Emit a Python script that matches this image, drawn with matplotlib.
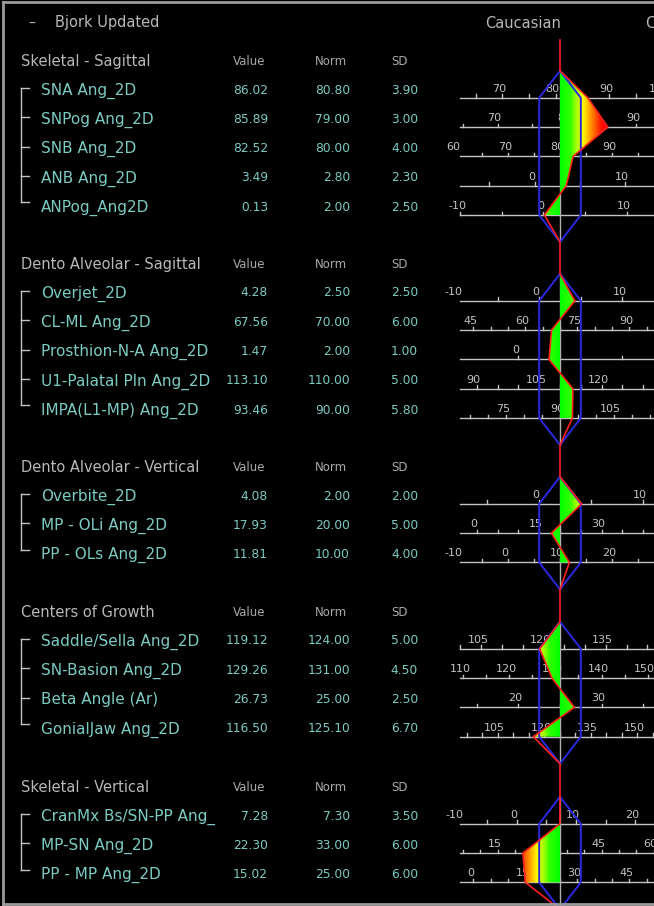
import numpy as np
import matplotlib
matplotlib.use("Agg")
import matplotlib.pyplot as plt
from matplotlib.colors import LinearSegmentedColormap
from matplotlib.patches import Polygon

# ---------------- data ----------------
TITLE = "Bjork Updated"
POPULATION = "Caucasian"
NEXT_POPULATION = "C"
COL_HEADERS = ["Value", "Norm", "SD"]

group_titles = ["Skeletal - Sagittal", "Dento Alveolar - Sagittal",
                "Dento Alveolar - Vertical", "Centers of Growth",
                "Skeletal - Vertical"]

skel_sag_names = ["SNA Ang_2D", "SNPog Ang_2D", "SNB Ang_2D", "ANB Ang_2D", "ANPog_Ang2D"]
skel_sag_values = [86.02, 85.89, 82.52, 3.49, 0.13]
skel_sag_norms = [80.80, 79.00, 80.00, 2.80, 2.00]
skel_sag_sds = [3.90, 3.00, 4.00, 2.30, 2.50]
skel_sag_steps = [10, 10, 10, 10, 10]

dento_sag_names = ["Overjet_2D", "CL-ML Ang_2D", "Prosthion-N-A Ang_2D",
                   "U1-Palatal Pln Ang_2D", "IMPA(L1-MP) Ang_2D"]
dento_sag_values = [4.28, 67.56, 1.47, 113.10, 93.46]
dento_sag_norms = [2.50, 70.00, 2.00, 110.00, 90.00]
dento_sag_sds = [2.50, 6.00, 1.00, 5.00, 5.80]
dento_sag_steps = [10, 15, 10, 15, 15]

dento_ver_names = ["Overbite_2D", "MP - OLi Ang_2D", "PP - OLs Ang_2D"]
dento_ver_values = [4.08, 17.93, 11.81]
dento_ver_norms = [2.00, 20.00, 10.00]
dento_ver_sds = [2.00, 5.00, 4.00]
dento_ver_steps = [10, 15, 10]

growth_names = ["Saddle/Sella Ang_2D", "SN-Basion Ang_2D", "Beta Angle (Ar)", "GonialJaw Ang_2D"]
growth_values = [119.12, 129.26, 26.73, 116.50]
growth_norms = [124.00, 131.00, 25.00, 125.10]
growth_sds = [5.00, 4.50, 2.50, 6.70]
growth_steps = [15, 10, 10, 15]

skel_ver_names = ["CranMx Bs/SN-PP Ang_", "MP-SN Ang_2D", "PP - MP Ang_2D"]
skel_ver_values = [7.28, 22.30, 15.02]
skel_ver_norms = [7.30, 33.00, 25.00]
skel_ver_sds = [3.50, 6.00, 6.00]
skel_ver_steps = [10, 15, 15]

groups = [
    (skel_sag_names, skel_sag_values, skel_sag_norms, skel_sag_sds, skel_sag_steps),
    (dento_sag_names, dento_sag_values, dento_sag_norms, dento_sag_sds, dento_sag_steps),
    (dento_ver_names, dento_ver_values, dento_ver_norms, dento_ver_sds, dento_ver_steps),
    (growth_names, growth_values, growth_norms, growth_sds, growth_steps),
    (skel_ver_names, skel_ver_values, skel_ver_norms, skel_ver_sds, skel_ver_steps),
]
TICK_STEP = 5

# ---------------- layout ----------------
W, H = 654, 906
CX = 560.0          # norm position
SDPX = 20.8         # pixels per standard deviation
AX_X0 = 460.0       # start of the per-row scale lines
LABEL_X0 = 454.0
LABEL_X1 = 663.0
header_y = [61, 264, 467, 612, 787]
ROW_OFF = 28.0
ROW_DY = 29.3
AXIS_DY = 8.8
TIP = 27.0

BG = "black"
GRAY = "#c4c4c4"
HEAD = "#b8b8b8"
TEAL = "#7ccbc3"
BLUE = "#2a2ae0"
RED = "#ff2020"

plt.rcParams['font.family'] = ['DejaVu Sans']

fig = plt.figure(figsize=(W / 100, H / 100), dpi=100, facecolor=BG)
ax = fig.add_axes([0, 0, 1, 1])
ax.set_facecolor(BG)
ax.axis('off')

ZMAX = 2.2
cmap = LinearSegmentedColormap.from_list(
    "dev", [(0.0, "#00ff00"), (0.5 / ZMAX, "#30ff00"), (0.8 / ZMAX, "#a8ff00"),
            (1.1 / ZMAX, "#ffff00"), (1.5 / ZMAX, "#ff9000"), (2.0 / ZMAX, "#ff1000"),
            (1.0, "#ff0000")])

# frame
ax.plot([3, 3], [2, 904], color="#9a9a9a", lw=2, zorder=6)
ax.plot([3, W + 5], [2, 2], color="#9a9a9a", lw=2, zorder=6)
ax.plot([3, W + 5], [904, 904], color="#9a9a9a", lw=2, zorder=6)

# title line
TY = 23
ax.text(32, TY + 4.5, "\u2013", color=HEAD, fontsize=10, ha='center', va='baseline')
ax.text(55, TY + 4.5, TITLE, color=HEAD, fontsize=10.5, ha='left', va='baseline')
ax.text(523, TY + 4.5, POPULATION, color=HEAD, fontsize=10.5, ha='center', va='baseline')
ax.text(645, TY + 4.5, NEXT_POPULATION, color=HEAD, fontsize=10.5, ha='left', va='baseline')

red_path = [(CX, 40)]

for gi, (names, vals, norms, sds, steps) in enumerate(groups):
    hy = header_y[gi]
    ax.text(21, hy + 5.3, group_titles[gi], color=HEAD, fontsize=10.5, ha='left', va='baseline')
    for xh, lab in zip([249, 331, 400], COL_HEADERS):
        ax.text(xh, hy + 4, lab, color="#a8a8a8", fontsize=8.5, ha='center', va='baseline')

    n = len(names)
    row_y = [hy + ROW_OFF + i * ROW_DY for i in range(n)]
    axis_y = [y + AXIS_DY for y in row_y]

    # bracket
    ax.plot([21, 21], [row_y[0] - 1, row_y[-1] - 4], color=GRAY, lw=1, zorder=2)
    for i, y in enumerate(row_y):
        yy = y - 4 if i == n - 1 else y - 1
        ax.plot([21, 29], [yy, yy], color=GRAY, lw=1, zorder=2)

    pts = []
    for i in range(n):
        y = row_y[i]
        ax.text(41, y + 5.5, names[i], color=TEAL, fontsize=11, ha='left', va='baseline')
        ax.text(268, y + 4.5, f"{vals[i]:.2f}", color=TEAL, fontsize=8.8, ha='right', va='baseline')
        ax.text(350, y + 4.5, f"{norms[i]:.2f}", color=TEAL, fontsize=8.8, ha='right', va='baseline')
        ax.text(418, y + 4.5, f"{sds[i]:.2f}", color=TEAL, fontsize=8.8, ha='right', va='baseline')

        ay = axis_y[i]
        norm, sd = norms[i], sds[i]
        to_x = lambda v: CX + (v - norm) / sd * SDPX
        ax.plot([AX_X0, W + 10], [ay, ay], color=GRAY, lw=1, zorder=1)
        vmin = norm + (AX_X0 - CX) / SDPX * sd
        vmax = norm + (W + 10 - CX) / SDPX * sd
        k = int(np.ceil(vmin / TICK_STEP))
        while k * TICK_STEP <= vmax:
            tx = to_x(k * TICK_STEP)
            ax.plot([tx, tx], [ay, ay - 3.5], color=GRAY, lw=1, zorder=1)
            k += 1
        st = steps[i]
        k = int(np.ceil((norm + (LABEL_X0 - CX) / SDPX * sd) / st))
        while to_x(k * st) <= LABEL_X1:
            lv = k * st
            ax.text(to_x(lv) - 3, ay - 6, f"{lv:d}", color=GRAY, fontsize=8,
                    ha='center', va='baseline', zorder=1)
            k += 1
        pts.append((to_x(vals[i]), ay))

    top = axis_y[0] - TIP
    bot = axis_y[-1] + TIP

    # center line of the group
    ax.plot([CX, CX], [top, bot], color="#b0b0b0", lw=1, zorder=2)

    # gradient fill between norm and values
    fill_pts = [(CX, top)] + pts + [(CX, axis_y[-1])]
    xs = np.linspace(CX - 5 * SDPX, CX + 5 * SDPX, 500)
    img = np.tile(np.abs(xs - CX) / SDPX, (2, 1))
    im = ax.imshow(img, cmap=cmap, vmin=0, vmax=ZMAX, extent=(xs[0], xs[-1], bot, top),
                   aspect='auto', interpolation='bilinear', zorder=3)
    clip = Polygon(fill_pts, closed=True, transform=ax.transData)
    im.set_clip_path(clip)

    # +/- 1 SD envelope
    hexa = [(CX, top), (CX + SDPX, axis_y[0]), (CX + SDPX, axis_y[-1]), (CX, bot),
            (CX - SDPX, axis_y[-1]), (CX - SDPX, axis_y[0]), (CX, top)]
    hx, hyy = zip(*hexa)
    ax.plot(hx, hyy, color=BLUE, lw=1.4, zorder=4)

    red_path += [(CX, top)] + pts + [(CX, bot)]

red_path.append((CX, H + 10))
rx, ry = zip(*red_path)
ax.plot(rx, ry, color=RED, lw=1.2, zorder=5)

ax.set_xlim(0, W)
ax.set_ylim(H, 0)
fig.savefig("out.png", dpi=100, facecolor=BG)
